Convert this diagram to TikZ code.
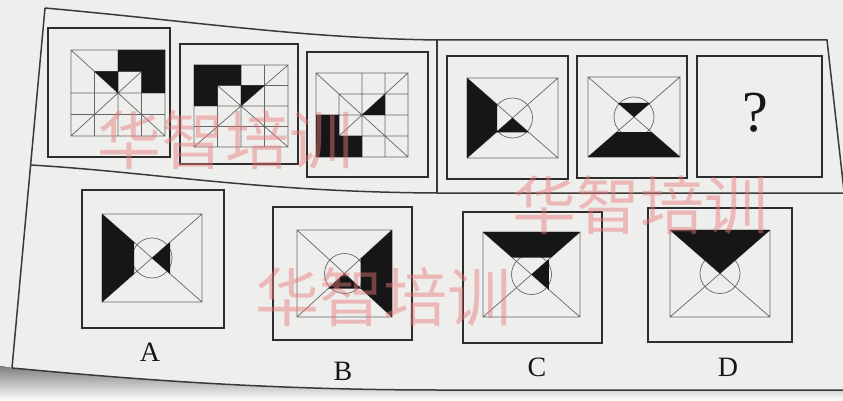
\documentclass[tikz,border=0pt]{standalone}
\usepackage{fontspec}
\setmainfont{Liberation Serif}
\newfontfamily\cjkwm{Noto Sans CJK SC}
\definecolor{paper}{RGB}{238,238,236}
\definecolor{shade}{RGB}{214,214,212}
\definecolor{ink}{RGB}{22,22,22}
\definecolor{wm}{RGB}{235,120,120}
\tikzset{
  frameline/.style={draw=ink!85, line width=1.5pt},
  boxline/.style={draw=ink!90, line width=1.6pt},
  gridline/.style={draw=black!60, line width=0.7pt},
  blackfill/.style={fill=ink},
  letter/.style={font=\fontsize{28}{30}\selectfont, text=ink, inner sep=0pt},
  qmark/.style={font=\fontsize{58}{60}\selectfont, text=ink, inner sep=0pt},
  watermark/.style={font=\cjkwm\fontsize{64}{66}\selectfont, text=wm, text opacity=0.45, inner sep=0pt},
}
% grid figure: centre x, centre y, width, height, black paths (local units: outer square is [-2,2]^2, y down)
\newcommand{\gridfig}[5]{%
  \begin{scope}[shift={(#1,#2)}, x={(#3*0.25pt,0pt)}, y={(0pt,-#4*0.25pt)}]
    \draw[gridline] (-2,-2) rectangle (2,2) (-2,-2)--(2,2) (-2,2)--(2,-2)
      (0,-2)--(0,2) (-2,0)--(2,0) (1,-2)--(1,2) (-2,1)--(2,1)
      (-1,-1)--(-1,2) (-1,-1)--(2,-1);
    \fill[blackfill] #5;
  \end{scope}}
% circle figure: centre x, centre y, half width, half height, black paths (local rect is [-1,1]^2, y down)
\newcommand{\circfig}[5]{%
  \draw[gridline] (#1,#2) circle (20pt);
  \begin{scope}[shift={(#1,#2)}, x={(#3*1pt,0pt)}, y={(0pt,-#4*1pt)}]
    \draw[gridline] (-1,-1) rectangle (1,1) (-1,-1)--(1,1) (-1,1)--(1,-1);
    \fill[blackfill] #5;
  \end{scope}}
\begin{document}
\begin{tikzpicture}[x=1pt,y=-1pt]
\useasboundingbox (0,0) rectangle (843,401);
\fill[paper] (0,0) rectangle (843,401);
\fill[shade] (0,366) -- (12,368) .. controls (120,378) and (260,390) .. (440,390) -- (843,390) -- (843,401) -- (0,401) -- cycle;

% outer frame of the page
\draw[frameline] (45,8) .. controls (200,22) and (300,38) .. (437,40) -- (827,40) -- (845,200);
\draw[frameline] (45,8) -- (12,368);
\draw[frameline] (12,368) .. controls (120,378) and (260,390) .. (440,390) -- (845,390);
\draw[frameline] (31,165) .. controls (150,172) and (260,192) .. (437,193) -- (845,193);
\draw[frameline] (437,40) -- (437,193);

% left group: three grid panels
\draw[boxline] (48,28) rectangle (170,157);
\draw[boxline] (180,44) rectangle (298,164);
\draw[boxline] (307,52) rectangle (428,177);
\gridfig{118}{93}{94}{86}{(0,-2)--(2,-2)--(2,0)--(1,0)--(1,-1)--(0,-1)--cycle (-1,-1)--(0,-1)--(0,0)--cycle}
\gridfig{241}{106}{94}{82}{(-2,-2)--(0,-2)--(0,-1)--(-1,-1)--(-1,0)--(-2,0)--cycle (0,-1)--(1,-1)--(0,0)--cycle}
\gridfig{362}{115}{92}{84}{(-2,0)--(-1,0)--(-1,1)--(0,1)--(0,2)--(-2,2)--cycle (0,0)--(1,-1)--(1,0)--cycle}

% right group
\draw[boxline] (447,56) rectangle (568,179);
\draw[boxline] (577,56) rectangle (687,178);
\draw[boxline] (697,56) rectangle (822,177);
\circfig{512.5}{118}{45.5}{40}{(-1,-1)--(-0.34,-0.34)--(-0.34,0.34)--(-1,1)--cycle (0,0)--(-0.36,0.36)--(0.36,0.36)--cycle}
\circfig{634}{117}{46}{40}{(-1,1)--(1,1)--(0.38,0.38)--(-0.38,0.38)--cycle (0,0)--(-0.35,-0.35)--(0.35,-0.35)--cycle}
\node[qmark] (q) at (755,113) {?};

% options
\draw[boxline] (82,190) rectangle (224,328);
\draw[boxline] (273,207) rectangle (412,340);
\draw[boxline] (463,212) rectangle (602,343);
\draw[boxline] (648,208) rectangle (792,342);
\circfig{152}{258}{50}{44}{(-1,-1)--(-0.36,-0.36)--(-0.36,0.36)--(-1,1)--cycle (0,0)--(0.36,-0.36)--(0.36,0.36)--cycle}
\circfig{344.5}{273.5}{47.5}{43.5}{(1,-1)--(0.34,-0.34)--(0.34,0.34)--(1,1)--cycle (0,0)--(-0.35,0.35)--(0.35,0.35)--cycle}
\circfig{531.5}{274.5}{48.5}{42.5}{(-1,-1)--(1,-1)--(0.4,-0.4)--(-0.4,-0.4)--cycle (0,0)--(0.36,-0.36)--(0.36,0.36)--cycle}
\circfig{720}{273.5}{50}{43.5}{(-1,-1)--(1,-1)--(0,0)--cycle}
\node[letter] (la) at (150,352) {A};
\node[letter] (lb) at (343,371) {B};
\node[letter] (lc) at (537,367) {C};
\node[letter] (ld) at (728,367) {D};

% watermarks
\node[watermark] (w1) at (225,140) {华智培训};
\node[watermark] (w2) at (640,205) {华智培训};
\node[watermark] (w3) at (383,297) {华智培训};
\end{tikzpicture}
\end{document}
